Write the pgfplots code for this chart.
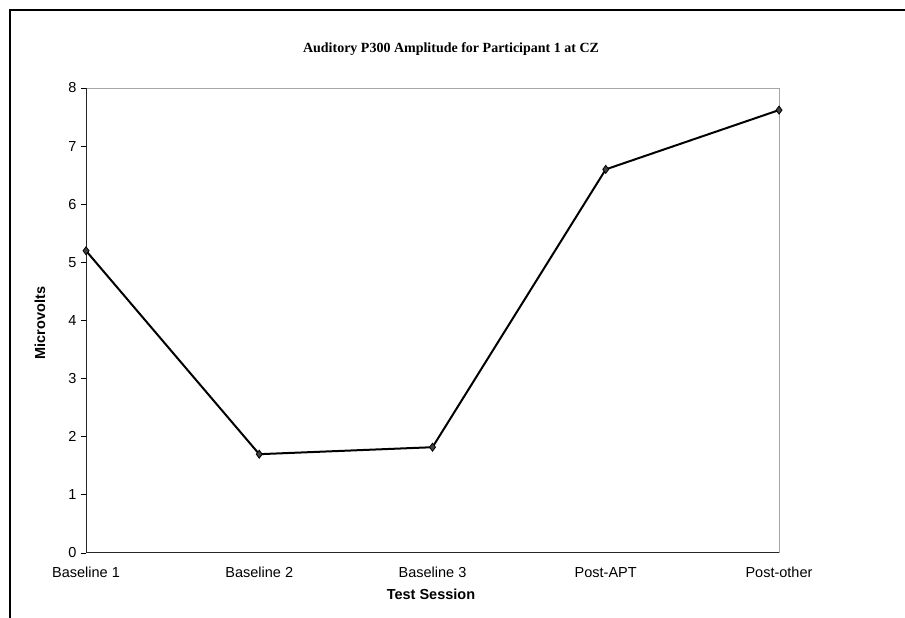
\documentclass[border=0pt]{standalone}
\usepackage{pgfplots}
\pgfplotsset{compat=1.18}
\usepackage{fontspec}
\setmainfont{Liberation Sans}
\newfontfamily\titlefont{Liberation Serif}
\begin{document}
\begin{tikzpicture}[x=1pt,y=1pt]
\path[use as bounding box] (0,0) rectangle (905,618);
\draw[line width=2pt] (10,0) -- (10,608) -- (905,608);
\node[font=\titlefont\bfseries\fontsize{14}{16}\selectfont] at (451,569) {Auditory P300 Amplitude for Participant 1 at CZ};
\node[font=\bfseries\fontsize{14.5}{16}\selectfont, rotate=90] at (40,295) {Microvolts};
\node[font=\bfseries\fontsize{14.5}{16}\selectfont] at (431,24) {Test Session};
\begin{axis}[
  at={(86pt,65pt)}, anchor=south west,
  scale only axis, width=693pt, height=465pt,
  xmin=0, xmax=4, ymin=0, ymax=8,
  xtick={0,1,2,3,4},
  xticklabels={Baseline 1, Baseline 2, Baseline 3, Post-APT, Post-other},
  ytick={0,1,2,3,4,5,6,7,8},
  ytick pos=left,
  axis line style={draw=none},
  tick align=outside,
  major tick length=5pt,
  tick style={black, line width=0.8pt},
  x tick style={draw=none},
  ticklabel style={font=\fontsize{14.5}{16}\selectfont},
  /pgf/number format/assume math mode=true,
  yticklabel style={xshift=-1pt},
  xticklabel style={yshift=-5pt, text height=10.5pt, text depth=3pt},
  clip=false,
]
\draw[gray!70, line width=0.8pt] (axis cs:0,8) -- (axis cs:4,8) -- (axis cs:4,0);
\draw[black!85, line width=1pt] (axis cs:0,8) -- (axis cs:0,0) -- (axis cs:4,0);
\addplot[black, line width=2pt, mark=diamond*, mark size=4pt, mark options={fill=gray!50!black, draw=black, line width=0.8pt}]
  coordinates {(0,5.20) (1,1.70) (2,1.82) (3,6.60) (4,7.62)};
\end{axis}
\end{tikzpicture}
\end{document}
